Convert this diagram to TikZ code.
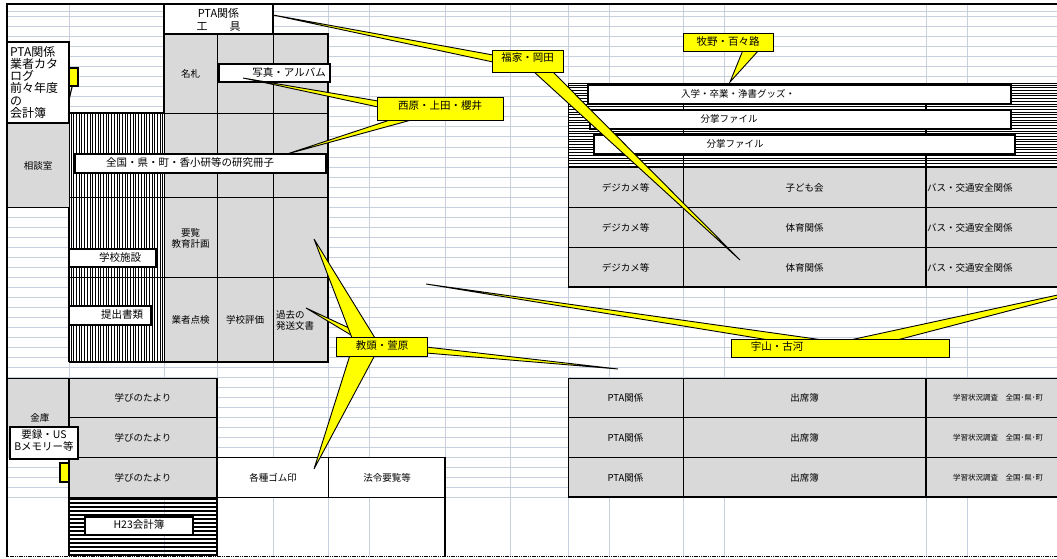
\documentclass[tikz,border=0pt]{standalone}
\usepackage{fontspec}
\setmainfont{Noto Sans CJK JP}
\definecolor{gridc}{RGB}{200,208,224}
\definecolor{cellg}{RGB}{217,217,217}
\definecolor{cyel}{RGB}{255,255,0}
\begin{document}
\begin{tikzpicture}[x=1pt,y=-1pt,
  gl/.style={gridc,line width=1pt},
  cl/.style={black,line width=0.9pt},
  tb/.style={black,line width=1.8pt},
  hl/.style={black,line width=0.75pt},
  wbox/.style={draw=black,fill=white,line width=1.3pt},
  cbox/.style={draw=black,fill=cyel,line width=1.2pt},
  wedge/.style={draw=black,fill=cyel,line width=0.9pt,line join=miter},
  tx/.style={inner sep=0pt,font=\fontsize{9.5}{11}\selectfont},
  tl/.style={inner sep=0pt,font=\fontsize{10.5}{12}\selectfont},
  ts/.style={inner sep=0pt,font=\fontsize{7.5}{9}\selectfont}]
\useasboundingbox (0,0) rectangle (1057,559);
\clip (0,0) rectangle (1057,559);
\fill[white] (0,0) rectangle (1057,559);
% ---- spreadsheet grid
\foreach \y in {12,17,27,...,497} \draw[gl] (7,\y) -- (1060,\y);
\foreach \x in {69,164,217,273,328,369,445,510,568,609,683,724,926,967} \draw[gl] (\x,4) -- (\x,556);
% ---- small hidden callout (top left)
\draw[cbox] (60,68) rectangle (78,86);
\draw[line width=1.2pt] (72,87) -- (68,104);
% ---- top PTA box
\draw[wbox] (164,4) rectangle (273,34);
\node[inner sep=0pt,font=\fontsize{11}{13}\selectfont,align=center] (pta) at (218.5,19.5) {PTA関係\\工　　具};
% ---- gray block
\fill[cellg] (164,34) rectangle (328,362);
\foreach \y in {113,197,277} \draw[cl] (164,\y) -- (328,\y);
\draw[cl] (217,34) -- (217,362);
\draw[cl] (273,34) -- (273,362);
\draw[tb] (164,34) rectangle (328,362);
\node[tx] (meifuda) at (190.5,74) {名札};
\node[tx,align=center] (youran) at (190.5,238) {要覧\\教育計画};
\node[tx] (gyosha) at (190.5,320) {業者点検};
\node[tx] (hyoka) at (245,320) {学校評価};
\node[tx,align=left,anchor=west] (kako) at (276,320) {過去の\\発送文書};
% ---- vertical hatch
\fill[white] (69,113) rectangle (164,362);
\foreach \x in {71,73.7,...,163} \draw[hl] (\x,113) -- (\x,362);
\draw[cl] (69,197) -- (164,197);
\draw[cl] (69,277) -- (164,277);
\draw[tb] (69,113) -- (69,362);
\draw[tb] (69,113) -- (164,113);
\draw[tb] (69,362) -- (164,362);
% ---- left boxes
\draw[wbox] (7,42) rectangle (69,123);
\node[inner sep=0pt,font=\fontsize{12}{12.2}\selectfont,align=left,anchor=north west] (catalog) at (10,46) {PTA関係\\業者カタ\\ログ\\前々年度\\の\\会計簿};
\fill[cellg] (7,123) rectangle (69,207);
\draw[cl] (7,123) rectangle (69,207);
\node[tx] (soudan) at (38,166) {相談室};
\draw[wbox] (219,64) rectangle (330,82);
\node[tl,anchor=east] (shashin) at (326,73) {写真・アルバム};
\draw[wbox] (75,154) rectangle (326,173);
\node[tl] (kenkyu) at (190,163) {全国・県・町・香小研等の研究冊子};
\draw[wbox] (69,249) rectangle (156,267);
\node[tl] (shisetsu) at (120,257) {学校施設};
\draw[wbox] (69,306) rectangle (151,325);
\node[tl] (teishutsu) at (122,315) {提出書類};
% ---- lower left
\draw[cbox] (60,463) rectangle (72,482);
\fill[cellg] (7,378) rectangle (69,457);
\fill[cellg] (69,378) rectangle (217,497);
\fill[white] (217,457) rectangle (445,497);
\draw[cl] (7,378) -- (217,378);
\draw[cl] (69,417) -- (217,417);
\draw[cl] (69,457) -- (445,457);
\draw[cl] (69,497) -- (445,497);
\draw[cl] (328,457) -- (328,497);
\draw[tb] (69,378) -- (69,556);
\draw[tb] (217,378) -- (217,556);
\draw[tb] (445,457) -- (445,556);
\foreach \y in {499,503,...,555} \draw[line width=1.1pt] (69,\y) -- (217,\y);
\node[tx] (kinko) at (40,418) {金庫};
\draw[wbox] (10,427) rectangle (78,459);
\node[tl,align=center] (yoroku) at (44,441) {要録・US\\Bメモリー等};
\node[tx] (manabi1) at (143,398) {学びのたより};
\node[tx] (manabi2) at (143,438) {学びのたより};
\node[tx] (manabi3) at (143,478) {学びのたより};
\node[tx] (gomu) at (273,478) {各種ゴム印};
\node[tx] (hourei) at (387,478) {法令要覧等};
\draw[wbox] (85,517) rectangle (193,535);
\node[tl] (h23) at (139,525) {H23会計簿};
% ---- top right hatch and boxes
\fill[white] (568,83) rectangle (1060,167);
\foreach \y in {85,87.7,...,166} \draw[hl] (568,\y) -- (1060,\y);
\draw[cl] (568,83) -- (1060,83);
\draw[cl] (568,83) -- (568,167);
\draw[cl] (683,83) -- (683,167);
\draw[tb] (926,83) -- (926,167);
\draw[wbox] (588,85) rectangle (1011,104);
\node[tx] (nyugaku) at (738,94) {入学・卒業・浄書グッズ・};
\draw[wbox] (590,110) rectangle (1011,129);
\node[tx] (bunsho1) at (729,119) {分掌ファイル};
\draw[wbox] (594,135) rectangle (1015,154);
\node[tx] (bunsho2) at (735,144) {分掌ファイル};
% ---- right tables
\fill[cellg] (568,167) rectangle (1060,287);
\foreach \y in {167,207,247} \draw[cl] (568,\y) -- (1060,\y);
\draw[line width=1.4pt] (568,287) -- (1060,287);
\draw[cl] (568,167) -- (568,287);
\draw[cl] (683,167) -- (683,287);
\draw[tb] (926,167) -- (926,287);
\fill[cellg] (568,378) rectangle (1060,497);
\foreach \y in {378,417,457} \draw[cl] (568,\y) -- (1060,\y);
\draw[line width=1.4pt] (568,497) -- (1060,497);
\draw[cl] (568,378) -- (568,497);
\draw[cl] (683,378) -- (683,497);
\draw[tb] (926,378) -- (926,497);
\node[tx] (dc1) at (625.5,188) {デジカメ等};
\node[tx] (dc2) at (625.5,228) {デジカメ等};
\node[tx] (dc3) at (625.5,268) {デジカメ等};
\node[tx] (kodomo) at (804.5,188) {子ども会};
\node[tx] (taiiku1) at (804.5,228) {体育関係};
\node[tx] (taiiku2) at (804.5,268) {体育関係};
\node[tx,anchor=west] (bus1) at (927,188) {バス・交通安全関係};
\node[tx,anchor=west] (bus2) at (927,228) {バス・交通安全関係};
\node[tx,anchor=west] (bus3) at (927,268) {バス・交通安全関係};
\node[tx] (ptak1) at (625.5,398) {PTA関係};
\node[tx] (ptak2) at (625.5,438) {PTA関係};
\node[tx] (ptak3) at (625.5,478) {PTA関係};
\node[tx] (shuseki1) at (804.5,398) {出席簿};
\node[tx] (shuseki2) at (804.5,438) {出席簿};
\node[tx] (shuseki3) at (804.5,478) {出席簿};
\node[ts] (gakushu1) at (998,398) {学習状況調査　全国･県･町};
\node[ts] (gakushu2) at (998,438) {学習状況調査　全国･県･町};
\node[ts] (gakushu3) at (998,478) {学習状況調査　全国･県･町};
% ---- outer frame
\draw[line width=2pt] (6,4) -- (1060,4);
\draw[line width=2pt] (6.5,3) -- (6.5,557);
\draw[line width=1.6pt,dash pattern=on 1.2pt off 0.6pt] (6,556.5) -- (1060,556.5);
% ---- callout pointers
\coordinate (tipA) at (273,15);
\coordinate (tipB) at (740,260);
\coordinate (tipC) at (730,82);
\coordinate (tipD) at (243,78);
\coordinate (tipE) at (287,154);
\coordinate (tipF) at (314,239);
\coordinate (tipG) at (306,308);
\coordinate (tipH) at (314,469);
\coordinate (tipI) at (618,369);
\coordinate (tipJ) at (426,284);
\coordinate (tipK) at (1127,280);
\draw[wedge] (tipA) -- (493,55) -- (493,62) -- cycle;
\draw[wedge] (tipB) -- (533,71) -- (552,71) -- cycle;
\draw[wedge] (tipC) -- (743,50) -- (759,50) -- cycle;
\draw[wedge] (tipD) -- (378,101) -- (378,107) -- cycle;
\draw[wedge] (tipE) -- (393,119) -- (415,119) -- cycle;
\draw[wedge] (tipG) -- (349,328) -- (356,338) -- cycle;
\draw[wedge] (tipF) -- (352,338) -- (375,338) -- cycle;
\draw[wedge] (tipH) -- (350,355) -- (375,355) -- cycle;
\draw[wedge] (tipI) -- (426,347) -- (426,353) -- cycle;
\draw[wedge] (tipJ) -- (769,340) -- (823,340) -- cycle;
\draw[wedge] (tipK) -- (850,340) -- (897,340) -- cycle;
% ---- callout boxes
\node[cbox,minimum width=71pt,minimum height=22pt,anchor=north west,inner sep=0pt] (fukuya) at (492,50) {};
\node[tl] (fukuyat) at (527.5,58) {福家・岡田};
\node[cbox,minimum width=90pt,minimum height=18pt,anchor=north west,inner sep=0pt] (makino) at (683,33) {};
\node[tl] (makinot) at (728,42) {牧野・百々路};
\node[cbox,minimum width=126pt,minimum height=23pt,anchor=north west,inner sep=0pt] (nishi) at (377,97) {};
\node[tl] (nishit) at (440,106) {西原・上田・櫻井};
\node[cbox,minimum width=91pt,minimum height=19pt,anchor=north west,inner sep=0pt] (kyoto) at (336,337) {};
\node[tl] (kyotot) at (382,346) {教頭・萱原};
\node[cbox,minimum width=218pt,minimum height=18pt,anchor=north west,inner sep=0pt] (uyama) at (731,339) {};
\node[tl] (uyamat) at (777,347) {宇山・古河};
\end{tikzpicture}
\end{document}
